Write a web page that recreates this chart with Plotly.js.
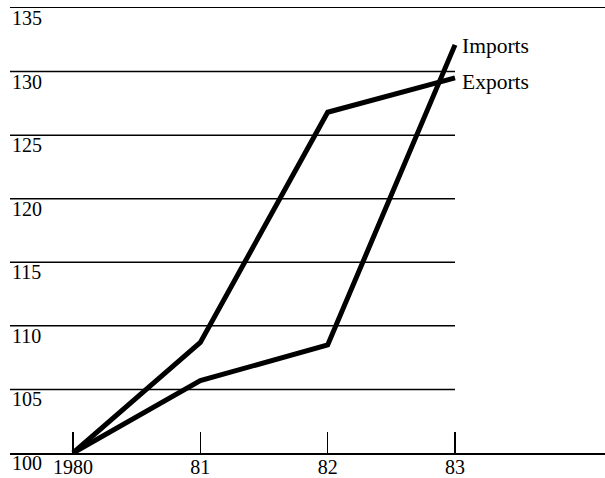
<!DOCTYPE html>
<html>
<head>
<meta charset="utf-8">
<script src="https://cdn.plot.ly/plotly-3.0.1.min.js"></script>
<style>html,body{margin:0;padding:0;background:#fff;}#chart{width:605px;height:478px;}</style>
</head>
<body>
<div id="chart"></div>
<script>
const years = [1980, 1981, 1982, 1983];
const yearLabels = ['1980', '81', '82', '83'];
const imports = [100, 105.7, 108.5, 132.1];
const exports = [100, 108.7, 126.8, 129.5];
const yTicks = [100, 105, 110, 115, 120, 125, 130, 135];
const seriesNames = ['Imports', 'Exports'];

const xRange = [1979.505, 1984.178];
const font = {family: 'Liberation Serif, Times New Roman, serif', size: 20, color: '#000'};
const labelFont = {family: 'Liberation Serif, Times New Roman, serif', size: 21.5, color: '#000'};

const traces = [
  {x: years, y: imports, mode: 'lines', name: seriesNames[0], line: {color: '#000', width: 5}},
  {x: years, y: exports, mode: 'lines', name: seriesNames[1], line: {color: '#000', width: 5}}
];

const shapes = yTicks.filter(v => v > 100 && v < 135).map(v => ({
  type: 'line', xref: 'x', x0: xRange[0], x1: years[years.length - 1], yref: 'y', y0: v, y1: v,
  line: {color: '#000', width: 1.5}
}));

const annotations = yTicks.map(v => ({
  xref: 'paper', x: 0, yref: 'y', y: v, yanchor: 'top', xanchor: 'left',
  text: String(v), showarrow: false, font: font, yshift: 3
})).concat([
  {xref: 'x', x: years[3], yref: 'y', y: imports[3], xanchor: 'left', yanchor: 'middle',
   text: seriesNames[0], showarrow: false, font: labelFont, xshift: 5, yshift: -1},
  {xref: 'x', x: years[3], yref: 'y', y: exports[3], xanchor: 'left', yanchor: 'middle',
   text: seriesNames[1], showarrow: false, font: labelFont, xshift: 5, yshift: -4}
]);

const layout = {
  width: 605, height: 478,
  margin: {l: 10, r: 0, t: 8, b: 25},
  paper_bgcolor: '#fff', plot_bgcolor: '#fff',
  showlegend: false,
  font: font,
  xaxis: {
    range: xRange, tickvals: years, ticktext: yearLabels,
    ticks: 'inside', ticklen: 21, tickwidth: 1.5, tickcolor: '#000',
    ticklabelstandoff: -5,
    showline: true, linecolor: '#000', linewidth: 1.5, mirror: true,
    showgrid: false, zeroline: false, tickfont: font, fixedrange: true
  },
  yaxis: {
    range: [100, 135], showticklabels: false, showgrid: false, zeroline: false,
    showline: false, ticks: '', fixedrange: true
  },
  shapes: shapes,
  annotations: annotations
};

Plotly.newPlot('chart', traces, layout, {staticPlot: true, displayModeBar: false});
</script>
</body>
</html>
